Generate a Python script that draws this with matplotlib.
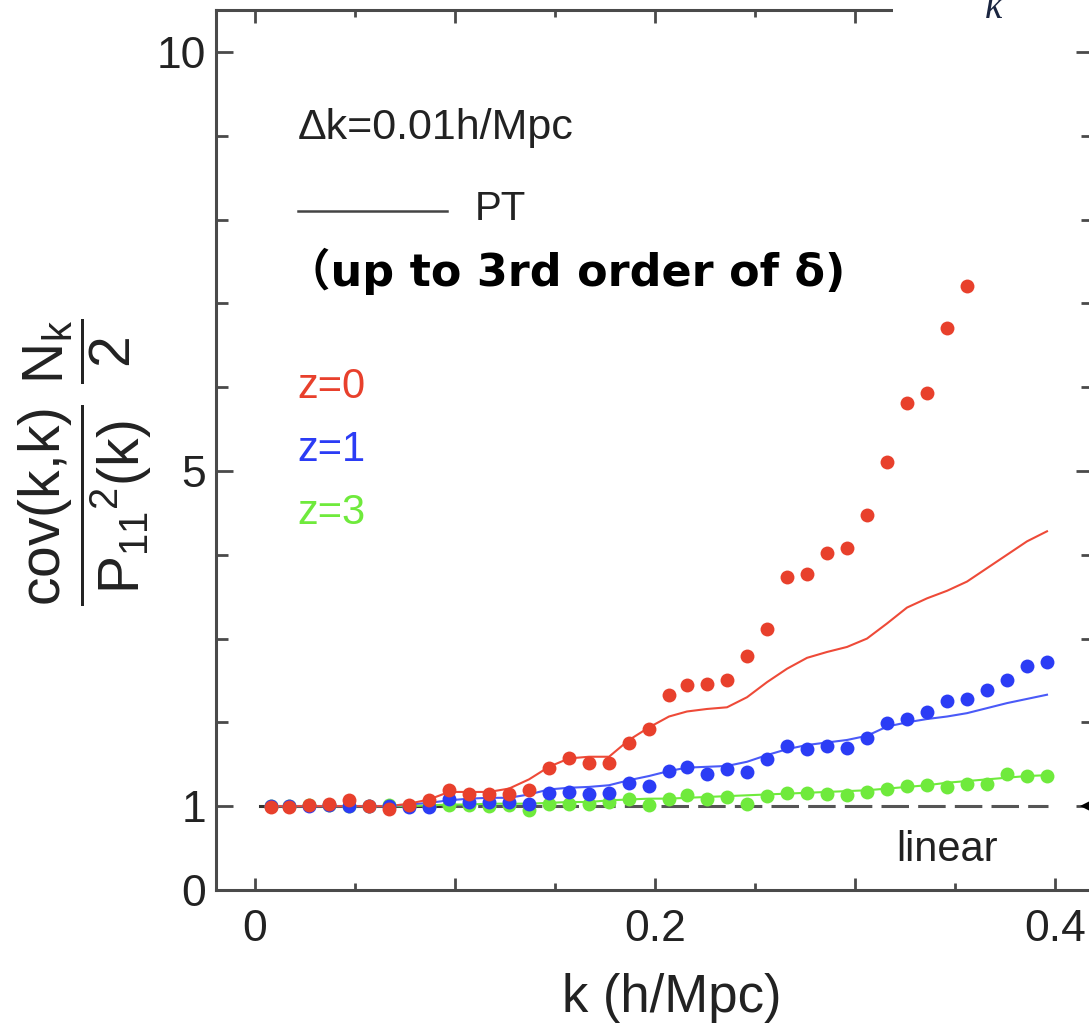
import numpy as np
import matplotlib
matplotlib.use('Agg')
import matplotlib.pyplot as plt
from matplotlib.ticker import FixedLocator, FixedFormatter
from matplotlib.patches import Rectangle

plt.rcParams['font.family'] = ['Liberation Sans', 'Noto Sans CJK SC', 'DejaVu Sans']
plt.rcParams['mathtext.fontset'] = 'custom'
plt.rcParams['mathtext.rm'] = 'Liberation Sans'
plt.rcParams['mathtext.it'] = 'Liberation Sans:italic'
plt.rcParams['mathtext.bf'] = 'Liberation Sans:bold'

# k bins (h/Mpc)
k = [0.008, 0.017, 0.027, 0.037, 0.047, 0.057, 0.067, 0.077, 0.087, 0.097,
     0.107, 0.117, 0.127, 0.137, 0.147, 0.157, 0.167, 0.177, 0.187, 0.197,
     0.207, 0.216, 0.226, 0.236, 0.246, 0.256, 0.266, 0.276, 0.286, 0.296,
     0.306, 0.316, 0.326, 0.336, 0.346, 0.356, 0.366, 0.376, 0.386, 0.396]

# simulation points
sim_z0 = [0.99, 0.99, 1.01, 1.03, 1.07, 1.00, 0.97, 1.01, 1.07, 1.19,
          1.15, 1.15, 1.15, 1.19, 1.45, 1.57, 1.52, 1.52, 1.75, 1.92,
          2.33, 2.45, 2.46, 2.51, 2.79, 3.12, 3.73, 3.77, 4.02, 4.08,
          4.48, 5.11, 5.81, 5.93, 6.70, 7.21]
sim_z1 = [1.00, 1.00, 1.00, 1.02, 1.00, 1.00, 1.00, 0.99, 0.99, 1.08,
          1.05, 1.05, 1.05, 1.03, 1.16, 1.17, 1.15, 1.16, 1.28, 1.24,
          1.42, 1.47, 1.38, 1.44, 1.41, 1.56, 1.72, 1.68, 1.72, 1.70,
          1.81, 1.99, 2.04, 2.12, 2.26, 2.28, 2.39, 2.51, 2.67, 2.72]
sim_z3 = [1.00, 1.00, 1.01, 1.02, 1.00, 1.00, 1.01, 1.00, 1.00, 1.02,
          1.02, 1.00, 1.01, 0.96, 1.03, 1.03, 1.03, 1.05, 1.09, 1.01,
          1.09, 1.13, 1.09, 1.11, 1.03, 1.12, 1.16, 1.16, 1.15, 1.13,
          1.17, 1.21, 1.24, 1.25, 1.23, 1.27, 1.26, 1.38, 1.36, 1.36]

# PT (up to 3rd order)
pt_z0 = [1.00, 1.00, 1.00, 1.00, 1.00, 1.00, 1.00, 1.03, 1.08, 1.17,
         1.17, 1.17, 1.21, 1.32, 1.47, 1.57, 1.59, 1.59, 1.79, 1.94,
         2.07, 2.13, 2.16, 2.18, 2.30, 2.48, 2.64, 2.77, 2.84, 2.90,
         3.00, 3.18, 3.37, 3.48, 3.57, 3.68, 3.84, 4.00, 4.16, 4.28]
pt_z1 = [1.00, 1.00, 1.00, 1.00, 1.00, 1.00, 1.00, 1.02, 1.04, 1.07,
         1.09, 1.10, 1.10, 1.14, 1.20, 1.22, 1.23, 1.25, 1.31, 1.36,
         1.42, 1.46, 1.47, 1.48, 1.53, 1.61, 1.68, 1.73, 1.76, 1.79,
         1.84, 1.95, 2.00, 2.04, 2.07, 2.11, 2.17, 2.23, 2.28, 2.33]
pt_z3 = [1.00, 1.00, 1.00, 1.00, 1.00, 1.00, 1.00, 1.00, 1.01, 1.02,
         1.02, 1.03, 1.03, 1.03, 1.04, 1.05, 1.05, 1.07, 1.08, 1.09,
         1.09, 1.10, 1.11, 1.12, 1.13, 1.14, 1.15, 1.16, 1.17, 1.18,
         1.19, 1.21, 1.23, 1.25, 1.28, 1.30, 1.32, 1.34, 1.36, 1.37]

# linear (Gaussian) level
lin_solid_k = [0.0025, 0.093]
lin_dash_k = [0.093, 0.3965]
lin_val = [1.0, 1.0]

red = '#e8402c'
blue = '#2b3cf5'
green = '#6fea3c'

fig = plt.figure(figsize=(10.89, 10.27), dpi=100)
W, H = 1089., 1027.
ax = fig.add_axes([216 / W, 1 - 890 / H, (1093 - 216) / W, 880 / H])

ax.plot(lin_solid_k, lin_val, color='#333333', lw=2.2, zorder=1)
ax.plot(lin_dash_k, lin_val, color='#555555', lw=2.2, ls=(0, (9, 3)), zorder=1)

ax.plot(k, pt_z3, color=green, lw=1.5, zorder=2)
ax.plot(k, pt_z1, color='#4a5af8', lw=1.5, zorder=2)
ax.plot(k, pt_z0, color='#ee4a38', lw=1.5, zorder=2)

ms = 10
ax.plot(k[:len(sim_z3)], sim_z3, 'o', color=green, ms=ms, mew=0, zorder=3)
ax.plot(k[:len(sim_z1)], sim_z1, 'o', color=blue, ms=ms, mew=0, zorder=4)
ax.plot(k[:len(sim_z0)], sim_z0, 'o', color=red, ms=ms, mew=0, zorder=5)

# arrow tip from the neighbouring panel
ax.plot([0.4155], [1.0], marker='<', color='black', ms=8, mew=0, clip_on=False)

ax.set_xlim(-0.0195, 0.419)
ax.set_ylim(0, 10.5)

spine_c = '#4a4a4a'
for s in ax.spines.values():
    s.set_color(spine_c)
    s.set_linewidth(2.2)

ax.xaxis.set_major_locator(FixedLocator([0, 0.1, 0.2, 0.3, 0.4]))
ax.xaxis.set_major_formatter(FixedFormatter(['0', '', '0.2', '', '0.4']))
ax.xaxis.set_minor_locator(FixedLocator([0.05, 0.15, 0.25, 0.35]))
ax.yaxis.set_major_locator(FixedLocator([0, 1, 5, 10]))
ax.yaxis.set_major_formatter(FixedFormatter(['0', '1', '5', '10']))
ax.yaxis.set_minor_locator(FixedLocator([2, 3, 4, 6, 7, 8, 9]))

ax.tick_params(axis='x', which='both', direction='in', top=True, bottom=True,
               color=spine_c, width=2.0, labelsize=32, pad=14)
ax.tick_params(axis='x', which='major', length=9)
ax.tick_params(axis='x', which='minor', length=5)
ax.tick_params(axis='y', which='both', direction='in', left=True, right=True,
               color=spine_c, width=2.0, labelsize=32, pad=7)
ax.tick_params(axis='y', which='major', length=12)
ax.tick_params(axis='y', which='minor', length=8.5)
for lab in ax.get_xticklabels() + ax.get_yticklabels():
    lab.set_color('#222222')

# annotations inside the panel
tc = '#222222'
fig.text(298 / W, 1 - 128 / H, '\u0394k=0.01h/Mpc', fontsize=31, color=tc,
         ha='left', va='center')
fig.add_artist(plt.Line2D([298 / W, 447 / W], [1 - 211 / H, 1 - 211 / H],
                          color='#444444', lw=1.8))
fig.text(475 / W, 1 - 209 / H, 'PT', fontsize=29, color=tc,
         ha='left', va='center')
fig.text(286 / W, 1 - 271 / H, '\uff08up to 3rd order of \u03b4)', fontsize=32,
         fontweight='bold', color='black', ha='left', va='center',
         family=['DejaVu Sans', 'Noto Sans CJK SC'])
fig.text(297 / W, 1 - 387 / H, 'z=0', fontsize=30, color=red, ha='left', va='center')
fig.text(297 / W, 1 - 450 / H, 'z=1', fontsize=30, color=blue, ha='left', va='center')
fig.text(297 / W, 1 - 513 / H, 'z=3', fontsize=30, color=green, ha='left', va='center')
fig.text(896 / W, 1 - 850 / H, 'linear', fontsize=30, color=tc, ha='left', va='center')

# axis labels
fig.text(672 / W, 1 - 998 / H, 'k (h/Mpc)', fontsize=38, color=tc,
         ha='center', va='center')
fig.text(85 / W, 1 - 462 / H,
         r'$\dfrac{\mathrm{cov(k{,}k)}}{\mathrm{P_{11}{}^{2}(k)}}\ \dfrac{\mathrm{N_k}}{2}$',
         fontsize=41, color=tc, rotation=90, ha='center', va='center')

# neighbouring panel overlap at top right
fig.add_artist(Rectangle((893 / W, 1 - 30 / H), 1 - 893 / W, 30 / H,
                         transform=fig.transFigure, facecolor='white',
                         edgecolor='none', zorder=10))
fig.text(993 / W, 1 - 18 / H, 'k', fontsize=28, style='italic',
         family='Liberation Serif', color='#1a2540', ha='center',
         va='baseline', zorder=11)

fig.savefig('out.png', dpi=100)
